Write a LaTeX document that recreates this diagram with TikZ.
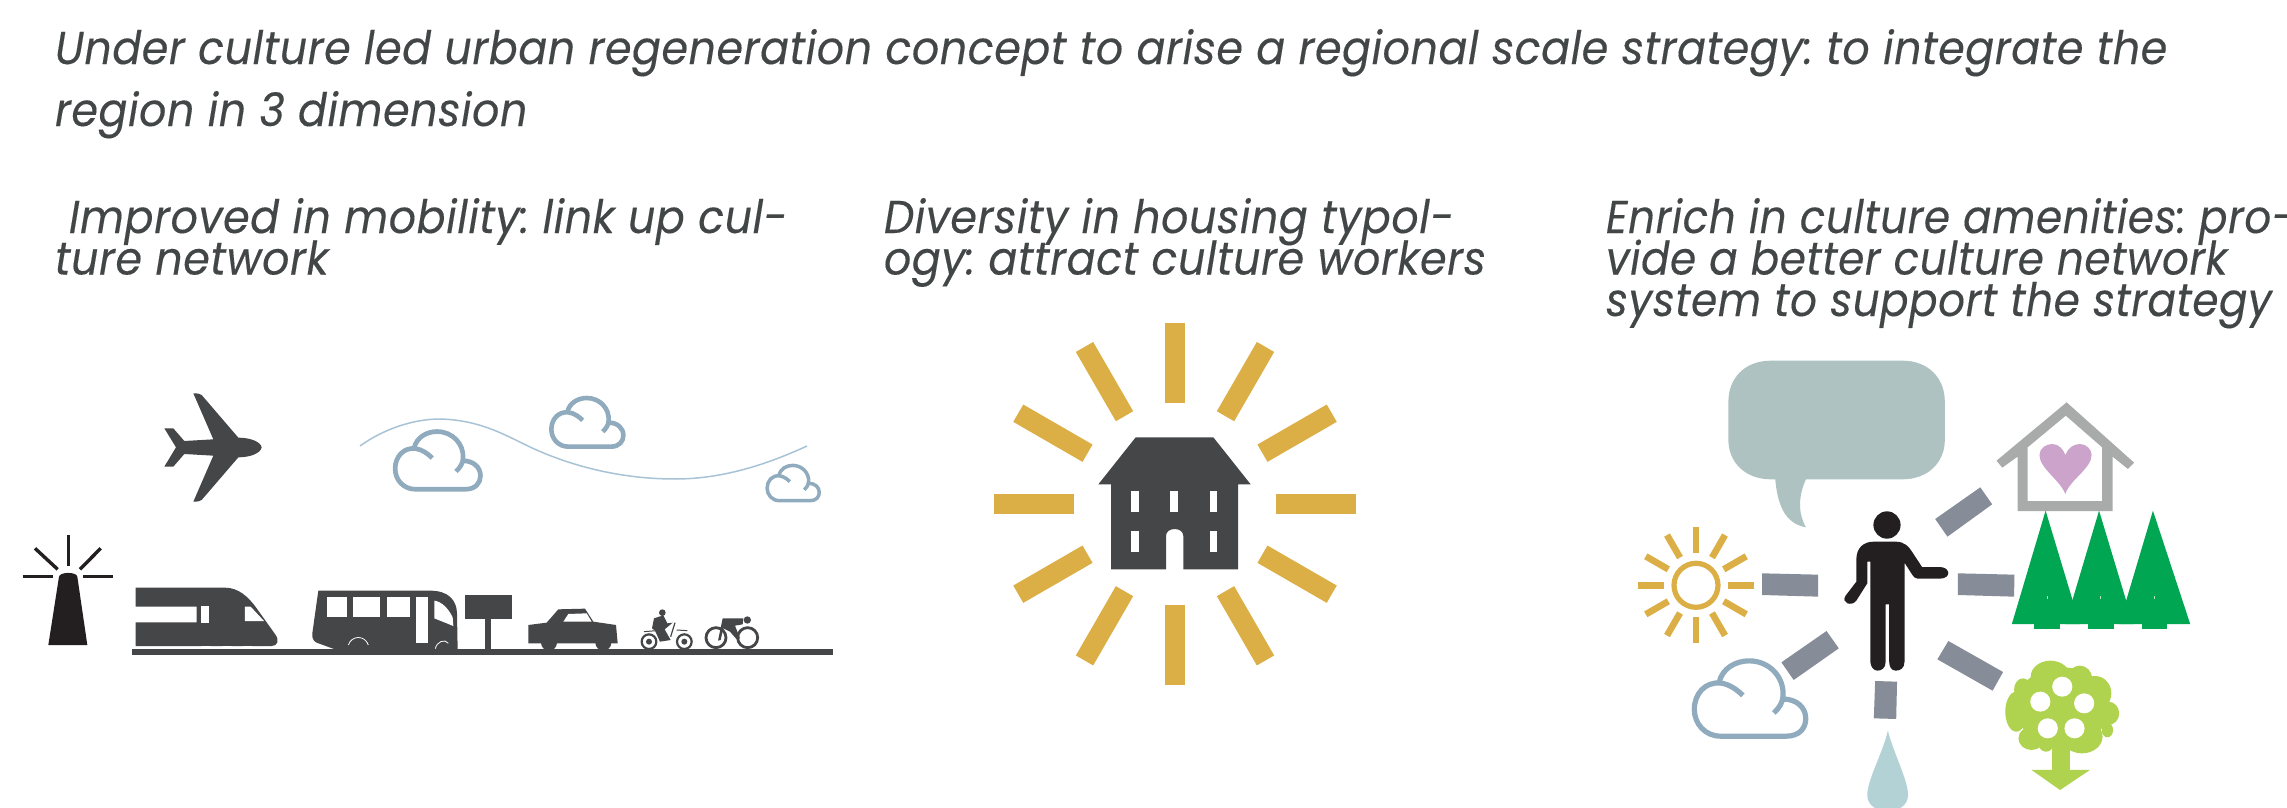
\documentclass[tikz,border=0pt]{standalone}
\usepackage{fontspec}
\newfontfamily\headfont{Poppins}[FakeStretch=0.93,LetterSpace=1.2,FakeBold=0.25]
\newfontfamily\amenfont{Poppins}[FakeStretch=0.915,LetterSpace=1.2,FakeBold=0.25]
\newcommand{\tightlines}{\lineskiplimit=-100pt\relax}
\definecolor{ink}{HTML}{424647}
\definecolor{dark}{HTML}{454648}
\definecolor{blackish}{HTML}{231F20}
\definecolor{cloudblue}{HTML}{90ABBE}
\definecolor{wave}{HTML}{A9C3D6}
\definecolor{gold}{HTML}{DBAF45}
\definecolor{bubble}{HTML}{AFC2C2}
\definecolor{roof}{HTML}{A9ABAB}
\definecolor{heart}{HTML}{CBA3CB}
\definecolor{pine}{HTML}{00A651}
\definecolor{bar}{HTML}{868C98}
\definecolor{leaf}{HTML}{AFD34E}
\definecolor{drop}{HTML}{B3D2D5}
\tikzset{
  headtext/.style={anchor=north west,inner sep=0pt,outer sep=0pt,align=left,text=ink,
    font=\frenchspacing\headfont\itshape\fontsize{23}{20.75}\selectfont\tightlines},
  amentext/.style={headtext,font=\frenchspacing\amenfont\itshape\fontsize{23}{20.75}\selectfont\tightlines},
  cloudline/.style={draw=cloudblue,line cap=butt,line join=round},
  beam/.style={draw=blackish,line width=1.7pt},
  sunray/.style={draw=gold,line width=3.3pt},
  darkfill/.style={fill=dark},
  hole/.style={fill=white},
  barfill/.style={fill=bar},
}
\newcommand{\cloudicon}[4]{%
  \begin{scope}[shift={(#1,#2)},scale=#3]
    \draw[cloudline,line width=#4pt] (-12,-5) .. controls (-22,-15) and (-38,-27) .. (-55,-29)
      .. controls (-85,-32) and (-106,-8) .. (-106,22)
      .. controls (-106,50) and (-85,74) .. (-55,74) -- (72,74)
      .. controls (98,74) and (110,58) .. (110,40)
      .. controls (110,18) and (92,2) .. (66,2);
    \draw[cloudline,line width=#4pt] (-58,-30) .. controls (-52,-58) and (-25,-72) .. (0,-72)
      .. controls (40,-72) and (68,-40) .. (66,-5)
      .. controls (66,8) and (58,20) .. (48,29);
  \end{scope}}
\begin{document}
\begin{tikzpicture}[x=0.5pt,y=-0.5pt]
\clip (0,0) rectangle (2287,808);
\fill[white] (0,0) rectangle (2287,808);
% texts
\node[headtext] (title) at (55,29) {Under culture led urban regeneration concept to arise a regional scale strategy: to integrate the\\[10.25pt]region in 3 dimension};
\node[headtext] (mobility) at (55,198) {\hspace*{7pt}Improved in mobility: link up cul-\\ture network};
\node[headtext] (housing) at (884,198) {Diversity in housing typol-\\ogy: attract culture workers};
\node[amentext] (amenity) at (1606,198) {Enrich in culture amenities: pro-\\vide a better culture network\\system to support the strategy};
% left: lighthouse, plane, train, bus (zoom-1 coordinates)
\begin{scope}[shift={(0,360)},scale=0.33333]
  \fill[dark] (785,262) .. controls (782,245) and (750,233) .. (715,233) -- (605,105)
    .. controls (600,100) and (590,100) .. (580,100) -- (640,238) -- (553,243) -- (520,205) -- (493,205)
    -- (528,262) -- (493,320) -- (520,320) -- (553,282) -- (640,287) -- (580,425)
    .. controls (590,425) and (600,425) .. (605,420) -- (715,292)
    .. controls (750,292) and (782,280) .. (785,262) -- cycle;
  \fill[blackish] (145,855) -- (262,855) -- (232,650) .. controls (230,635) and (180,635) .. (177,650) -- cycle;
  \draw[beam] (205,525) -- (205,618);
  \draw[beam] (105,565) -- (173,628);
  \draw[beam] (302,565) -- (240,628);
  \draw[beam] (68,649) -- (160,649);
  \draw[beam] (250,649) -- (340,649);
  % train
  \fill[dark] (407,683) -- (675,683) .. controls (715,683) and (745,710) .. (770,745)
    -- (825,822) .. controls (840,842) and (832,858) .. (815,858) -- (407,858) -- (407,787)
    -- (590,787) -- (590,740) -- (407,740) -- cycle;
  \fill[hole] (602,738) rectangle (627,788);
  \fill[hole] (735,740) -- (752,740) -- (792,783) -- (735,783) -- cycle;
  \fill[hole] (604,858) arc[start angle=180,end angle=0,radius=14] -- cycle;
  \fill[hole] (667,858) arc[start angle=180,end angle=0,radius=14] -- cycle;
  \fill[hole] (729,858) arc[start angle=180,end angle=0,radius=14] -- cycle;
  % bus
  \fill[dark] (955,692) -- (1290,692) .. controls (1345,692) and (1370,720) .. (1371,760)
    -- (1373,870) -- (1010,870) -- (950,848) .. controls (938,842) and (936,832) .. (937,820) -- cycle;
  \fill[hole] (982,712) rectangle (1042,772);
  \fill[hole] (1060,712) rectangle (1141,772);
  \fill[hole] (1160,712) rectangle (1231,772);
  \fill[hole] (1247,712) rectangle (1285,848);
  \fill[hole] (1303,722) .. controls (1325,725) and (1345,745) .. (1358,772) -- (1360,798) -- (1303,775) -- cycle;
  \draw[white,line width=0.4pt] (1306,866) .. controls (1310,845) and (1335,835) .. (1345,850);
  \draw[white,line width=0.4pt] (1045,855) .. controls (1055,825) and (1095,825) .. (1105,855);
\end{scope}
% sign, car (zoom-2 coordinates)
\begin{scope}[shift={(440,360)},scale=0.33333]
  \fill[dark] (76,705) rectangle (216,778);
  \fill[dark] (135,778) rectangle (153,867);
  \fill[dark] (265,795) -- (320,788) -- (355,748) -- (435,746) -- (460,785) -- (528,795) -- (533,850)
    -- (265,850) -- cycle;
  \fill[hole] (296,856) arc[start angle=180,end angle=0,radius=31] -- cycle;
  \fill[hole] (459,856) arc[start angle=180,end angle=0,radius=31] -- cycle;
  \fill[dark] (327,848) circle[radius=24];
  \fill[dark] (490,848) circle[radius=24];
  \fill[hole] (370,785) -- (385,762) -- (440,760) -- (455,785) -- cycle;
\end{scope}
% ground
\fill[dark] (132,649) rectangle (833,655);
% motorbike, bicycle (zoom-7 coordinates)
\begin{scope}[shift={(630,590)},scale=0.33333]
  \draw[dark,line width=1.1pt] (57,155) circle[radius=22];
  \draw[dark,line width=1.1pt] (163,155) circle[radius=22];
  \fill[dark] (57,155) circle[radius=9];
  \fill[dark] (163,155) circle[radius=9];
  \fill[dark] (97,68) circle[radius=10];
  \fill[dark] (72,85) -- (100,76) -- (112,100) -- (128,98) -- (104,118) -- (122,150) -- (90,155) -- (75,122) -- (66,115) -- cycle;
  \draw[dark,line width=0.5pt] (42,125) -- (78,122);
  \draw[dark,line width=0.6pt] (135,98) -- (122,140);
  \draw[dark,line width=0.5pt] (140,120) -- (172,122);
  \draw[dark,line width=1.4pt] (258,143) circle[radius=30];
  \draw[dark,line width=1.4pt] (353,143) circle[radius=30];
  \fill[dark] (352,90) circle[radius=11];
  \fill[dark] (278,85) -- (340,85) -- (338,103) -- (315,107) -- (330,145) -- (320,148) -- (300,125) -- (280,115) -- (272,150) -- (264,152) -- cycle;
\end{scope}
% clouds and wave
\cloudicon{437}{460}{0.395}{2.35}
\cloudicon{586.7}{422}{0.3333}{2.3}
\cloudicon{792.7}{482.8}{0.2415}{1.75}
\draw[wave,line width=0.75pt] (360,446) .. controls (385,428) and (415,419) .. (440,419)
  .. controls (480,420) and (505,435) .. (530,447)
  .. controls (575,468) and (625,479) .. (675,479)
  .. controls (725,479) and (770,463) .. (807,446);
% sunburst with house
\foreach \a in {0,30,...,330}{
  \begin{scope}[shift={(1175,503.7)},rotate=\a]
    \fill[gold] (101,-10) rectangle (181,10);
  \end{scope}}
\begin{scope}[shift={(960,310)},scale=0.33333]
  \fill[dark] (527,382) -- (760,382) -- (872,523) -- (834,523) -- (834,778) -- (670,778) -- (670,678)
    .. controls (670,650) and (618,650) .. (618,678) -- (618,778) -- (453,778) -- (453,523) -- (415,523) -- cycle;
  \fill[hole] (514,543) rectangle (536,605);
  \fill[hole] (631,543) rectangle (654,605);
  \fill[hole] (749,543) rectangle (772,605);
  \fill[hole] (514,663) rectangle (536,725);
  \fill[hole] (749,663) rectangle (772,725);
\end{scope}
% right group
\foreach \a in {0,30,...,330}{
  \draw[sunray] (1696,585.3) ++(\a:32) -- ++(\a:26);
}
\draw[gold,line width=2.6pt] (1696,585.3) circle[radius=22];
\cloudicon{1749}{698}{0.516}{2.6}
\begin{scope}[shift={(1600,340)},xscale=0.43814,yscale=0.33333]
  \fill[bubble] (390,62) -- (690,62) .. controls (750,62) and (787,115) .. (787,185) -- (787,300)
    .. controls (787,365) and (750,418) .. (690,418) -- (470,418)
    .. controls (452,470) and (452,520) .. (470,562)
    .. controls (420,550) and (405,490) .. (400,418) -- (390,418)
    .. controls (330,418) and (293,365) .. (293,300) -- (293,185)
    .. controls (293,115) and (330,62) .. (390,62) -- cycle;
  \fill[roof,even odd rule] (1065,187) -- (1219,368) -- (1205,387) -- (1170,350) -- (1170,513) -- (953,513)
    -- (953,350) -- (918,383) -- (905,362) -- cycle
    (1063,227) -- (1146,322) -- (1146,483) -- (976,483) -- (976,322) -- cycle;
  \fill[heart] (1062,462) .. controls (1050,420) and (1003,385) .. (1003,345)
    .. controls (1003,325) and (1018,312) .. (1032,312)
    .. controls (1048,312) and (1058,330) .. (1062,345)
    .. controls (1068,325) and (1080,312) .. (1095,312)
    .. controls (1110,312) and (1122,328) .. (1122,345)
    .. controls (1122,385) and (1072,420) .. (1062,462) -- cycle;
  \foreach \c/\r in {1017/78,1139/78,1262/85}{
    \fill[pine] (\c,512) -- (\c-77,852) -- (\c+\r,852) -- cycle;
    \fill[pine] (\c-26,852) rectangle (\c+33,868);
    \fill[white!70!pine] (\c+3,768) rectangle (\c+5,776);
  }
  \fill[barfill] (868,442) -- (895,493) -- (793,590) -- (765,537) -- cycle;
  \fill[barfill] (817,700) -- (946,704) -- (945,770) -- (817,765) -- cycle;
  \fill[barfill] (795,903) -- (920,996) -- (896,1052) -- (770,958) -- cycle;
  \fill[barfill] (628,1023) -- (678,1025) -- (676,1137) -- (625,1135) -- cycle;
  \fill[barfill] (517,873) -- (545,925) -- (442,1020) -- (414,967) -- cycle;
  \fill[barfill] (370,700) -- (498,704) -- (498,770) -- (370,765) -- cycle;
  % person
  \fill[blackish] (655,555) ellipse[x radius=31,y radius=41];
  \fill[blackish] (585,660) .. controls (585,625) and (600,605) .. (625,605) -- (675,605)
    .. controls (695,605) and (705,620) .. (712,635) -- (735,681) -- (775,681)
    .. controls (800,681) and (803,716) .. (775,716) -- (725,716)
    .. controls (718,716) and (716,710) .. (712,703) -- (695,668) -- (695,965)
    .. controls (695,985) and (685,992) .. (675,992) .. controls (665,992) and (660,980) .. (660,965)
    -- (660,793) -- (652,793) -- (652,965) .. controls (652,985) and (642,992) .. (633,992)
    .. controls (625,992) and (617,980) .. (617,965) -- (617,665) -- (610,665) -- (610,730)
    -- (585,782) .. controls (575,800) and (550,790) .. (560,768) -- (585,725) -- cycle;
  % fruit tree
  \fill[leaf] (1055,1100) ellipse[x radius=108,y radius=118];
  \foreach \ex/\ey/\erx/\ery in {1028/1010/45/48,1095/1015/28/38,1130/1060/37/52,1160/1120/25/35,1158/1170/13/22,1100/1190/47/50,985/1195/30/35,965/1050/20/35,950/1115/25/60,1018/1215/16/20}{
    \fill[leaf] (\ex,\ey) ellipse[x radius=\erx,y radius=\ery];
  }
  \fill[leaf] (1032,1210) rectangle (1073,1292);
  \fill[leaf] (985,1290) -- (1118,1290) -- (1050,1350) -- cycle;
  \foreach \hx/\hy in {1055/1040,1005/1085,1105/1090,1022/1165,1083/1165}{
    \fill[hole] (\hx,\hy) ellipse[x radius=23,y radius=30];
  }
  % drop
  \fill[drop] (657,1172) .. controls (645,1240) and (610,1320) .. (610,1365)
    .. controls (610,1430) and (703,1430) .. (703,1365)
    .. controls (703,1320) and (670,1240) .. (657,1172) -- cycle;
\end{scope}
\end{tikzpicture}
\end{document}
